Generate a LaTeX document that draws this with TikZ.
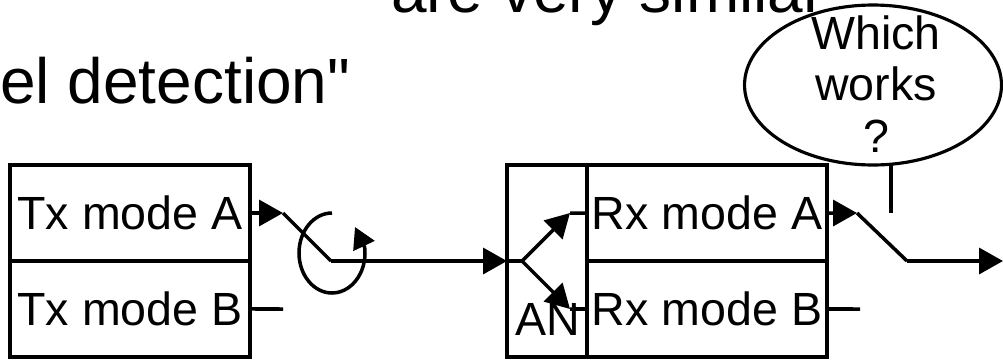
\documentclass[tikz,border=0pt]{standalone}
\usepackage{fontspec}
\setmainfont{Liberation Sans}[Ligatures=TeXOff]
\usetikzlibrary{arrows.meta}
\usetikzlibrary{positioning}
\usetikzlibrary{shapes.geometric}
\newcommand\diagfont{\fontsize{26.5}{29.5}\selectfont}
\newcommand\titlefont{\fontsize{36.4}{40}\selectfont}
\tikzset{
  wire/.style={line width=2pt, line cap=butt},
  arr/.style={wire, -{Triangle[length=0.48cm, width=0.52cm]}},
  modebox/.style={draw, line width=2pt, minimum width=4.8cm, minimum height=1.92cm,
                  inner sep=0pt, outer sep=0pt, font=\diagfont},
  antbox/.style={draw, line width=2pt, minimum width=1.6cm, minimum height=3.84cm,
                 inner sep=0pt, outer sep=0pt},
  bubble/.style={ellipse, draw, line width=1.8pt, minimum width=5.14cm, minimum height=3.2cm,
                 inner sep=0pt, outer sep=0pt},
  heading/.style={inner sep=0pt, font=\titlefont}
}

\begin{document}
\begin{tikzpicture}[x=0.02cm, y=-0.02cm]
  \useasboundingbox (0,0) rectangle (1003,359);
  \fill[white] (0,0) rectangle (1003,359);
  \clip (0,0) rectangle (1003,359);
  %The slide text that is cut off:
  \node[heading, anchor=base east] (similar) at (825,12) {are very similar};
  \node[heading, anchor=base west] (detect) at (0,103) {el detection"};

  %The transmitter side:
  \node[modebox] (txa) at (130,213) {Tx mode A};
  \node[modebox, below=0pt of txa] (txb) {Tx mode B};
  \coordinate (sw1) at (283,213);
  \coordinate (sw1e) at (331,261);
  \coordinate (txbend) at (283,309);
  \draw[arr] (txa.east) -- (sw1);
  \draw[wire] (sw1) -- (sw1e);
  \draw[wire] (txb.east) -- (txbend);
  %The rotation of the switch:
  \coordinate (rotstart) at (332,213);
  \coordinate (rottip) at (355,227);
  \draw[wire, -{Triangle[length=0.42cm, width=0.46cm]}] (rotstart)
    arc[start angle=-90, end angle=-368, x radius=33, y radius=40] -- (rottip);

  %The antenna and receiver side:
  \node[antbox] (ant) at (547,261) {};
  \node[anchor=base west, inner sep=0pt, font=\diagfont] (antlbl) at (515,335) {AN};
  \node[modebox, anchor=north west] (rxa) at (ant.north east) {Rx mode A};
  \node[modebox, below=0pt of rxa] (rxb) {Rx mode B};
  \draw[arr] (sw1e) -- (ant.west);
  \coordinate (fork) at (522,261);
  \coordinate (upA) at (570,213);
  \coordinate (upB) at (570,309);
  \draw[wire] (ant.west) -- (fork);
  \draw[arr] (fork) -- (upA);
  \draw[arr] (fork) -- (upB);
  \draw[wire] (upA) -- (rxa.west);
  \draw[wire] (upB) -- (rxb.west);

  %The output switch:
  \coordinate (sw2) at (857,213);
  \coordinate (sw2e) at (907,261);
  \coordinate (outend) at (1003,261);
  \coordinate (rxbend) at (860,309);
  \draw[arr] (rxa.east) -- (sw2);
  \draw[wire] (sw2) -- (sw2e);
  \draw[arr] (sw2e) -- (outend);
  \draw[wire] (rxb.east) -- (rxbend);

  %The question bubble:
  \node[bubble] (ask) at (873,85) {};
  \node[align=center, inner sep=0pt, font=\diagfont] (asktext) at (876,84) {Which\\works\\?};
  \coordinate (askfoot) at (891,213);
  \draw[wire] (askfoot |- ask.south) -- (askfoot);
\end{tikzpicture}
\end{document}
